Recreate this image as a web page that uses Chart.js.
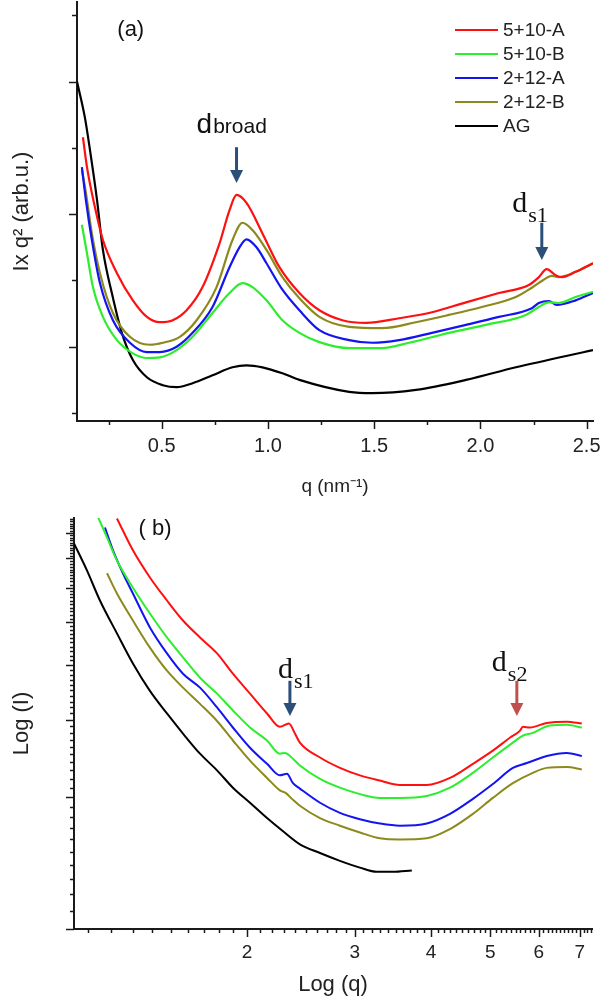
<!DOCTYPE html>
<html>
<head>
<meta charset="utf-8">
<script src="https://cdn.jsdelivr.net/npm/chart.js@4.4.1/dist/chart.umd.min.js"></script>
<style>
  html, body { margin: 0; padding: 0; background: #fff; overflow: hidden; }
  canvas { display: block; }
</style>
</head>
<body>
<canvas id="chartA" width="600" height="500"></canvas>
<canvas id="chartB" width="600" height="501"></canvas>
<script>
// series names and colours (same order in both panels)
const seriesLabels = ['5+10-A', '5+10-B', '2+12-A', '2+12-B', 'AG'];
const seriesColors = ['#ff1010', '#2cee2c', '#1414f0', '#8c8a1c', '#000000'];

// panel (a): q (nm^-1) vs I x q^2 (arb. u.)
const a510A = [[0.129,5.16],[0.148,4.71],[0.185,4.11],[0.223,3.61],[0.289,3.11],[0.364,2.70],[0.430,2.45],[0.491,2.37],[0.552,2.40],[0.617,2.55],[0.692,2.90],[0.772,3.56],[0.819,4.06],[0.852,4.29],[0.899,4.17],[0.974,3.71],[1.054,3.20],[1.148,2.81],[1.242,2.55],[1.350,2.40],[1.462,2.36],[1.617,2.43],[1.772,2.52],[1.932,2.67],[2.087,2.81],[2.228,2.93],[2.275,3.05],[2.312,3.17],[2.354,3.08],[2.383,3.05],[2.448,3.13],[2.530,3.26]];
const a510B = [[0.124,3.84],[0.148,3.41],[0.176,2.90],[0.223,2.45],[0.289,2.10],[0.364,1.90],[0.430,1.83],[0.491,1.84],[0.570,1.95],[0.645,2.15],[0.739,2.51],[0.819,2.81],[0.880,2.96],[0.927,2.90],[0.993,2.70],[1.068,2.40],[1.148,2.21],[1.242,2.07],[1.382,1.98],[1.537,1.98],[1.664,2.06],[1.852,2.21],[2.026,2.33],[2.214,2.48],[2.275,2.60],[2.322,2.67],[2.368,2.66],[2.448,2.75],[2.530,2.83]];
const a212A = [[0.124,4.71],[0.143,4.21],[0.171,3.61],[0.209,2.96],[0.270,2.40],[0.350,2.06],[0.430,1.92],[0.491,1.92],[0.570,2.00],[0.645,2.21],[0.739,2.60],[0.819,3.20],[0.866,3.50],[0.899,3.62],[0.946,3.50],[0.993,3.26],[1.068,2.86],[1.148,2.55],[1.242,2.25],[1.382,2.10],[1.491,2.06],[1.617,2.10],[1.772,2.21],[1.932,2.33],[2.087,2.45],[2.242,2.58],[2.275,2.66],[2.322,2.69],[2.359,2.63],[2.448,2.70],[2.530,2.81]];
const a212B = [[0.124,4.67],[0.143,4.32],[0.171,3.71],[0.209,3.11],[0.270,2.51],[0.350,2.15],[0.444,2.03],[0.505,2.06],[0.585,2.15],[0.664,2.40],[0.758,2.90],[0.833,3.61],[0.880,3.87],[0.927,3.76],[0.993,3.46],[1.068,3.05],[1.148,2.73],[1.242,2.45],[1.382,2.30],[1.537,2.28],[1.697,2.37],[1.852,2.48],[2.007,2.60],[2.167,2.75],[2.242,2.89],[2.298,3.01],[2.336,3.07],[2.368,3.05],[2.448,3.13],[2.530,3.26]];
const aAG = [[0.101,6.00],[0.138,5.46],[0.162,4.97],[0.195,4.22],[0.223,3.46],[0.265,2.81],[0.312,2.21],[0.364,1.80],[0.430,1.54],[0.505,1.42],[0.570,1.39],[0.645,1.45],[0.739,1.57],[0.833,1.69],[0.899,1.72],[0.974,1.69],[1.068,1.60],[1.148,1.50],[1.382,1.32],[1.491,1.30],[1.697,1.35],[1.932,1.50],[2.167,1.69],[2.530,1.95]];

// panel (b): log-log, q vs I (arb. u.)
const b510A = [[1.226,8.63],[1.302,7.30],[1.388,6.33],[1.480,5.61],[1.572,5.05],[1.676,4.62],[1.787,4.25],[1.897,3.82],[2.023,3.44],[2.157,3.10],[2.264,2.89],[2.342,2.94],[2.396,2.79],[2.441,2.66],[2.633,2.46],[2.838,2.33],[3.060,2.24],[3.299,2.18],[3.556,2.13],[3.936,2.13],[4.295,2.21],[4.682,2.38],[5.047,2.55],[5.381,2.73],[5.587,2.83],[5.650,2.89],[5.801,2.88],[6.183,2.95],[6.667,2.97],[7.054,2.94]];
const b510B = [[1.142,8.68],[1.181,7.81],[1.226,6.92],[1.302,6.00],[1.388,5.24],[1.480,4.62],[1.572,4.16],[1.676,3.74],[1.787,3.44],[1.897,3.15],[2.023,2.88],[2.157,2.69],[2.264,2.51],[2.308,2.52],[2.351,2.48],[2.441,2.36],[2.633,2.20],[2.838,2.10],[3.060,2.03],[3.299,1.99],[3.556,1.99],[3.936,2.01],[4.295,2.10],[4.682,2.27],[5.047,2.46],[5.442,2.66],[5.650,2.76],[5.867,2.80],[6.253,2.91],[6.667,2.92],[7.054,2.88]];
const b212A = [[1.172,8.23],[1.208,7.30],[1.254,6.47],[1.302,5.82],[1.388,4.87],[1.480,4.25],[1.572,3.82],[1.676,3.55],[1.787,3.20],[1.897,2.88],[2.023,2.59],[2.157,2.38],[2.264,2.24],[2.325,2.26],[2.378,2.15],[2.441,2.09],[2.633,1.94],[2.838,1.84],[3.060,1.78],[3.299,1.74],[3.556,1.72],[3.936,1.74],[4.295,1.83],[4.682,1.98],[5.047,2.14],[5.442,2.33],[5.736,2.39],[6.183,2.48],[6.667,2.52],[7.054,2.48]];
const b212B = [[1.181,6.47],[1.226,5.82],[1.302,5.05],[1.388,4.38],[1.480,3.88],[1.572,3.55],[1.676,3.26],[1.787,2.98],[1.897,2.69],[2.023,2.42],[2.157,2.21],[2.264,2.07],[2.316,2.04],[2.369,1.98],[2.441,1.91],[2.633,1.79],[2.838,1.72],[3.060,1.66],[3.299,1.61],[3.556,1.60],[3.936,1.61],[4.295,1.69],[4.682,1.83],[5.047,1.99],[5.442,2.15],[5.867,2.27],[6.183,2.33],[6.667,2.34],[7.054,2.31]];
const bAG = [[1.043,7.57],[1.095,6.57],[1.150,5.61],[1.226,4.72],[1.302,4.03],[1.388,3.49],[1.480,3.10],[1.572,2.79],[1.676,2.51],[1.787,2.30],[1.897,2.10],[2.023,1.94],[2.157,1.79],[2.291,1.67],[2.441,1.56],[2.633,1.49],[2.838,1.43],[3.060,1.38],[3.262,1.35],[3.464,1.35],[3.720,1.36]];

// tick values
const aXLabels = [0.5, 1.0, 1.5, 2.0, 2.5];
const aXMinor = [0.25, 0.75, 1.25, 1.75, 2.25];
const aYMajor = [2, 4, 6];
const aYMinor = [1, 3, 5, 7];
const bXLabels = [2, 3, 4, 5, 6, 7];
const bYMajor = [1, 2, 3, 4, 5, 6, 7, 8];

// minor ticks of the log axes: tenths inside each unit
const tenths = (from, to) => {
  const out = [];
  for (let d = from; d < to; d++) for (let k = 1; k < 10; k++) out.push(d + k / 10);
  return out;
};
const bXMinor = tenths(1, 8);
const bYMinor = tenths(1, 9);

const SANS = "'Liberation Sans', Arial, sans-serif";
const SERIF = "'Liberation Serif', 'Times New Roman', serif";
Chart.defaults.font.family = SANS;
Chart.defaults.color = '#222';

const toXY = (pairs) => pairs.map(([x, y]) => ({ x, y }));

function makeDatasets(list, width) {
  return list.map((pairs, i) => ({
    label: seriesLabels[i],
    data: toXY(pairs),
    borderColor: seriesColors[i],
    borderWidth: width,
    pointRadius: 0,
    fill: false,
    cubicInterpolationMode: 'monotone'
  }));
}

// draws tick marks, arrows with d labels, panel tag and legend
function overlay(cfg) {
  return {
    id: 'overlay',
    afterDraw(chart) {
      const ctx = chart.ctx;
      const xs = chart.scales.x, ys = chart.scales.y;
      ctx.save();
      ctx.strokeStyle = '#1a1a1a';
      ctx.lineWidth = 1.5;
      const mark = (scale, vals, len) => {
        vals.forEach(v => {
          if (v < scale.min || v > scale.max) return;
          const p = Math.round(scale.getPixelForValue(v)) + 0.5;
          ctx.beginPath();
          if (scale.isHorizontal()) {
            ctx.moveTo(p, scale.top); ctx.lineTo(p, scale.top + len);
          } else {
            ctx.moveTo(scale.right, p); ctx.lineTo(scale.right - len, p);
          }
          ctx.stroke();
        });
      };
      mark(xs, cfg.xMajor, 8);
      mark(xs, cfg.xMinor, 4);
      mark(ys, cfg.yMajor, 8);
      mark(ys, cfg.yMinor, cfg.yMinorLen);

      cfg.notes.forEach(n => {
        const x = xs.getPixelForValue(n.x);
        const y0 = ys.getPixelForValue(n.tail);
        const y1 = ys.getPixelForValue(n.tip);
        ctx.strokeStyle = n.color;
        ctx.fillStyle = n.color;
        ctx.lineWidth = 3;
        ctx.beginPath();
        ctx.moveTo(x, y0); ctx.lineTo(x, y1 - 11);
        ctx.stroke();
        ctx.beginPath();
        ctx.moveTo(x - 6.5, y1 - 13); ctx.lineTo(x + 6.5, y1 - 13); ctx.lineTo(x, y1);
        ctx.closePath();
        ctx.fill();

        const tx = xs.getPixelForValue(n.tx);
        const ty = ys.getPixelForValue(n.ty);
        ctx.fillStyle = '#111';
        ctx.textAlign = 'left';
        ctx.textBaseline = 'alphabetic';
        ctx.font = n.font;
        ctx.fillText('d', tx, ty);
        const w = ctx.measureText('d').width;
        ctx.font = n.subFont;
        ctx.fillText(n.sub, tx + w + 1, ty + n.subDy);
      });

      ctx.fillStyle = '#111';
      ctx.font = '22px ' + SANS;
      ctx.textAlign = 'center';
      ctx.textBaseline = 'middle';
      ctx.fillText(cfg.tag.text, xs.getPixelForValue(cfg.tag.x), ys.getPixelForValue(cfg.tag.y));

      if (cfg.legend) {
        ctx.font = '19px ' + SANS;
        ctx.textAlign = 'left';
        ctx.textBaseline = 'middle';
        chart.data.datasets.forEach((ds, i) => {
          const y = 30 + i * 24;
          ctx.strokeStyle = ds.borderColor;
          ctx.lineWidth = 2;
          ctx.beginPath();
          ctx.moveTo(455, y); ctx.lineTo(498, y);
          ctx.stroke();
          ctx.fillStyle = '#222';
          ctx.fillText(ds.label, 503, y + 1);
        });
      }
      ctx.restore();
    }
  };
}

const axisBorder = { display: true, color: '#1a1a1a', width: 2 };
const noGrid = { display: false, drawTicks: false };

new Chart(document.getElementById('chartA'), {
  type: 'line',
  data: { datasets: makeDatasets([a510A, a510B, a212A, a212B, aAG], 2.2) },
  options: {
    responsive: false,
    animation: false,
    layout: { padding: { top: 2, right: 7, left: 0, bottom: 0 } },
    plugins: { legend: { display: false }, tooltip: { enabled: false } },
    scales: {
      x: {
        type: 'linear', min: 0.101, max: 2.53,
        grid: noGrid, border: axisBorder,
        ticks: { padding: 13, font: { size: 20 }, color: '#222', maxRotation: 0, callback: v => v.toFixed(1) },
        afterBuildTicks: s => { s.ticks = aXLabels.map(v => ({ value: v })); },
        afterFit: s => { s.height = 79; s.paddingLeft = 0; s.paddingRight = 0; },
        title: { display: true, text: 'q (nm\u207B\u00B9)', font: { size: 19 }, color: '#222', padding: { top: 0, bottom: 2 } }
      },
      y: {
        type: 'linear', min: 0.88, max: 7.2,
        grid: noGrid, border: axisBorder,
        ticks: { display: false },
        afterFit: s => { s.width = 77; s.paddingTop = 0; s.paddingBottom = 0; },
        title: { display: true, text: 'Ix q\u00B2 (arb.u.)', font: { size: 22 }, color: '#222', padding: { top: 9, bottom: 0 } }
      }
    }
  },
  plugins: [overlay({
    xMajor: aXLabels, xMinor: aXMinor, yMajor: aYMajor, yMinor: aYMinor, yMinorLen: 5,
    tag: { text: '(a)', x: 0.354, y: 6.78 },
    legend: true,
    notes: [
      { x: 0.852, tail: 5.01, tip: 4.47, color: '#2b4f78', tx: 0.664, ty: 5.22,
        font: '28px ' + SANS, subFont: '21px ' + SANS, sub: 'broad', subDy: 0 },
      { x: 2.289, tail: 3.87, tip: 3.31, color: '#2b4f78', tx: 2.150, ty: 4.03,
        font: '30px ' + SERIF, subFont: '22px ' + SERIF, sub: 's1', subDy: 10 }
    ]
  })]
});

new Chart(document.getElementById('chartB'), {
  type: 'line',
  data: { datasets: makeDatasets([b510A, b510B, b212A, b212B, bAG], 2) },
  options: {
    responsive: false,
    animation: false,
    layout: { padding: { top: 18, right: 8, left: 0, bottom: 0 } },
    plugins: { legend: { display: false }, tooltip: { enabled: false } },
    scales: {
      x: {
        type: 'logarithmic', min: 1.043, max: 7.33,
        grid: noGrid, border: axisBorder,
        ticks: { padding: 12, font: { size: 19 }, color: '#222', maxRotation: 0, callback: v => String(v) },
        afterBuildTicks: s => { s.ticks = bXLabels.map(v => ({ value: v })); },
        afterFit: s => { s.height = 72; s.paddingLeft = 0; s.paddingRight = 0; },
        title: { display: true, text: 'Log (q)', font: { size: 22 }, color: '#222', padding: { top: 0, bottom: 3 } }
      },
      y: {
        type: 'logarithmic', min: 1, max: 8.65,
        grid: noGrid, border: axisBorder,
        ticks: { display: false },
        afterFit: s => { s.width = 74; s.paddingTop = 0; s.paddingBottom = 0; },
        title: { display: true, text: 'Log (I)', font: { size: 22 }, color: '#222', padding: { top: 9, bottom: 0 } }
      }
    }
  },
  plugins: [overlay({
    xMajor: bXLabels, xMinor: bXMinor, yMajor: bYMajor, yMinor: bYMinor, yMinorLen: 4,
    tag: { text: '( b)', x: 1.415, y: 8.15 },
    legend: false,
    notes: [
      { x: 2.351, tail: 3.68, tip: 3.06, color: '#2b4f78', tx: 2.247, ty: 3.74,
        font: '30px ' + SERIF, subFont: '22px ' + SERIF, sub: 's1', subDy: 10 },
      { x: 5.524, tail: 3.68, tip: 3.06, color: '#c0504d', tx: 5.028, ty: 3.88,
        font: '30px ' + SERIF, subFont: '22px ' + SERIF, sub: 's2', subDy: 10 }
    ]
  })]
});
</script>
</body>
</html>
